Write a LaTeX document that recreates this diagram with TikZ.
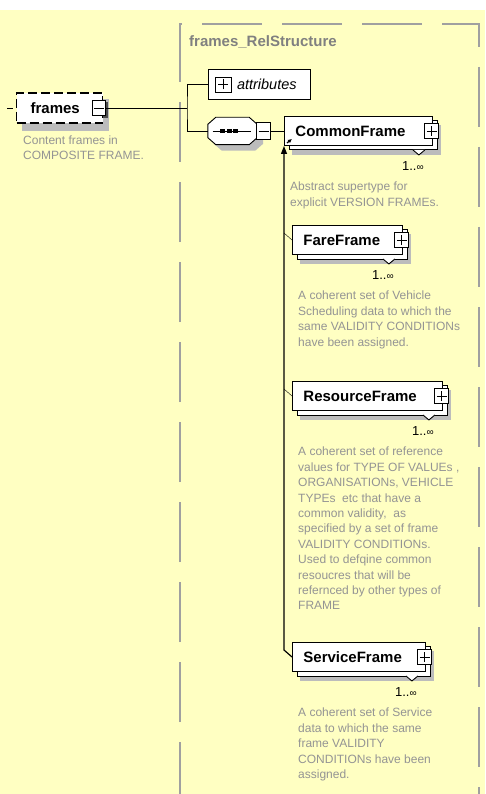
\documentclass[tikz,border=0pt]{standalone}
\usepackage{fontspec}
\setmainfont{Liberation Sans}
\usetikzlibrary{arrows.meta}

\pgfdeclarelayer{back}
\pgfdeclarelayer{shade}
\pgfdeclarelayer{copy}
\pgfsetlayers{back,shade,copy,main}

\definecolor{bgyellow}{RGB}{255,255,194}
\definecolor{shadegray}{RGB}{188,188,188}
\definecolor{notegray}{RGB}{148,148,148}
\definecolor{titlegray}{RGB}{128,128,128}
\definecolor{bordergray}{RGB}{160,160,160}

\newcommand{\manysign}{{\fontsize{10}{12}\selectfont ∞}}

\tikzset{
  elem/.style={draw, fill=white, line width=0.9pt, minimum height=29pt,
    inner xsep=11pt, inner ysep=0pt, align=left, anchor=west,
    font=\fontsize{15}{18}\selectfont\bfseries},
  togglebox/.style={draw, fill=white, line width=0.9pt, minimum width=14pt,
    minimum height=15pt, inner sep=0pt},
  plusbox/.style={togglebox, path picture={
    \draw ([xshift=-5pt]path picture bounding box.center) -- ([xshift=5pt]path picture bounding box.center);
    \draw ([yshift=-5pt]path picture bounding box.center) -- ([yshift=5pt]path picture bounding box.center);}},
  minusbox/.style={togglebox, path picture={
    \draw ([xshift=-5pt]path picture bounding box.center) -- ([xshift=5pt]path picture bounding box.center);}},
  note/.style={anchor=north west, inner sep=0pt, align=left, text=notegray,
    font=\fontsize{12}{15.4}\selectfont},
  mult/.style={anchor=east, inner sep=0pt, font=\fontsize{13}{15}\selectfont},
  notch/.style={draw=black, fill=white, line width=0.9pt}
}

\begin{document}
\begin{tikzpicture}[x=1pt,y=-1pt,line width=1pt]
    \useasboundingbox (0,0) rectangle (485,794);
    \begin{pgfonlayer}{back}
    \fill[bgyellow] (0,10) rectangle (485,794);
    \draw[bordergray,line width=1.2pt,dash pattern=on 60pt off 20pt,dash phase=8pt] (180,794)--(180,24)--(479,24)--(479,794);
    \end{pgfonlayer}
    \node[anchor=west,inner sep=0pt,text=titlegray,font=\fontsize{15}{18}\selectfont\bfseries] (reltitle) at (189,42) {frames\_RelStructure};

    \node[draw, fill=white, line width=1.3pt, dash pattern=on 9pt off 4pt, anchor=west,
      minimum height=30pt, inner xsep=14pt, inner ysep=0pt, text width=58pt, align=left,
      font=\fontsize{15}{18}\selectfont\bfseries] (frames) at (16,108) {frames};
    \node[minusbox, minimum width=13pt] (framesminus) at (99,108) {};
    \coordinate (inlet) at (7,108);
    \draw[dash pattern=on 6pt off 4pt] (inlet) -- (frames.west);
    \node[note] (framesnote) at (23,135.5) {Content frames in\\COMPOSITE FRAME.};

    \coordinate (fork) at (187,108);
    \node[draw, fill=white, line width=0.9pt, minimum width=102pt, minimum height=30pt, inner sep=0pt,
      text width=102pt, align=left, font=\fontsize{14.5}{17}\selectfont\itshape] (attributes) at (259,84) {\hspace*{29pt}attributes};
    \node[plusbox, minimum width=16pt] (attrplus) at (223,84.5) {};

    \node[minimum width=49pt, minimum height=27pt, inner sep=0pt] (seq) at (232.5,131) {};
    \foreach \off/\col/\edge in {6/shadegray/none,0/white/black}
        \filldraw[fill=\col, draw=\edge, line width=0.9pt, transform canvas={shift={(\off pt,-\off pt)}}]
          ([xshift=8pt]seq.north west) -- ([xshift=-8pt]seq.north east) -- ([yshift=-7pt]seq.north east)
          -- ([yshift=7pt]seq.south east) -- ([xshift=-8pt]seq.south east) -- ([xshift=8pt]seq.south west)
          -- ([yshift=7pt]seq.south west) -- ([yshift=-7pt]seq.north west) -- cycle;
    \draw ([xshift=-20pt]seq.center) -- ([xshift=18pt]seq.center);
    \foreach \dx in {-10,-3.5,3}
        \fill ([xshift=\dx pt]seq.center) +(-2.5,-2) rectangle +(2.5,2);
    \node[minusbox, minimum height=17pt] (seqminus) at (263.5,131) {};

    \draw (framesminus) -- (fork);
    \draw (attributes.west) -| (fork) |- (seq.west);

    \node[elem, text width=126pt] (common) at (284,131) {CommonFrame};
    \node[plusbox] (commonplus) at ([xshift=-1pt]common.east) {};
    \draw[notch] ([shift={(-20,4)}]common.south east) -- ++(6,5) -- ++(6,-5);
    \draw[-{Latex[length=4pt,width=4pt]}, line width=1.2pt] ([shift={(3,-3)}]common.south west) -- ++(5,-4);
    \node[mult] (commonmult) at ([shift={(-9,20)}]common.south east) {1..\manysign};
    \node[note] (commonnote) at ([shift={(6,36)}]common.south west) {Abstract supertype for\\explicit VERSION FRAMEs.};
    \draw (seqminus) -- (common);

    \node[elem, text width=88pt] (fare) at (292,240) {FareFrame};
    \node[plusbox] (fareplus) at ([xshift=-1pt]fare.east) {};
    \draw[notch] ([shift={(-20,4)}]fare.south east) -- ++(6,5) -- ++(6,-5);
    \node[mult] (faremult) at ([shift={(-9,20)}]fare.south east) {1..\manysign};
    \node[note] (farenote) at ([shift={(6,36)}]fare.south west) {A coherent set of Vehicle\\Scheduling data to which the\\same VALIDITY CONDITIONs\\have been assigned.};

    \node[elem, text width=128pt] (resource) at (292,396) {ResourceFrame};
    \node[plusbox] (resourceplus) at ([xshift=-1pt]resource.east) {};
    \draw[notch] ([shift={(-20,4)}]resource.south east) -- ++(6,5) -- ++(6,-5);
    \node[mult] (resourcemult) at ([shift={(-9,20)}]resource.south east) {1..\manysign};
    \node[note] (resourcenote) at ([shift={(6,36)}]resource.south west) {A coherent set of reference\\values for TYPE OF VALUEs ,\\ORGANISATIONs, VEHICLE\\TYPEs\ \ etc that have a\\common validity,\ \ as\\specified by a set of frame\\VALIDITY CONDITIONs.\\Used to defqine common\\resoucres that will be\\refernced by other types of\\FRAME};

    \node[elem, text width=111pt] (service) at (292,657) {ServiceFrame};
    \node[plusbox] (serviceplus) at ([xshift=-1pt]service.east) {};
    \draw[notch] ([shift={(-20,4)}]service.south east) -- ++(6,5) -- ++(6,-5);
    \node[mult] (servicemult) at ([shift={(-9,20)}]service.south east) {1..\manysign};
    \node[note] (servicenote) at ([shift={(6,36)}]service.south west) {A coherent set of Service\\data to which the same\\frame VALIDITY\\CONDITIONs have been\\assigned.};

    \draw[-{Triangle[width=6pt,length=8pt]}, line width=1.2pt] (service.west) -- ++(-8,-7) -- (common.south west);
    \draw (fare.west) -- ++(-8,-7);
    \draw (resource.west) -- ++(-8,-7);

    \begin{pgfonlayer}{shade}
    \foreach \n in {common,fare,resource,service}
        \fill[shadegray] ([shift={(8,9)}]\n.north west) rectangle ([shift={(8,9)}]\n.south east);
    \fill[shadegray] ([shift={(6,7)}]frames.north west) rectangle ([shift={(6,7)}]frames.south east);
    \fill[black!70] ([shift={(2,2)}]framesminus.north west) rectangle ([shift={(2,2)}]framesminus.south east);
    \end{pgfonlayer}
    \begin{pgfonlayer}{copy}
    \foreach \n in {common,fare,resource,service}
        \draw[fill=white, line width=0.9pt] ([shift={(5,4)}]\n.north west) rectangle ([shift={(5,4)}]\n.south east);
    \end{pgfonlayer}
\end{tikzpicture}
\end{document}
